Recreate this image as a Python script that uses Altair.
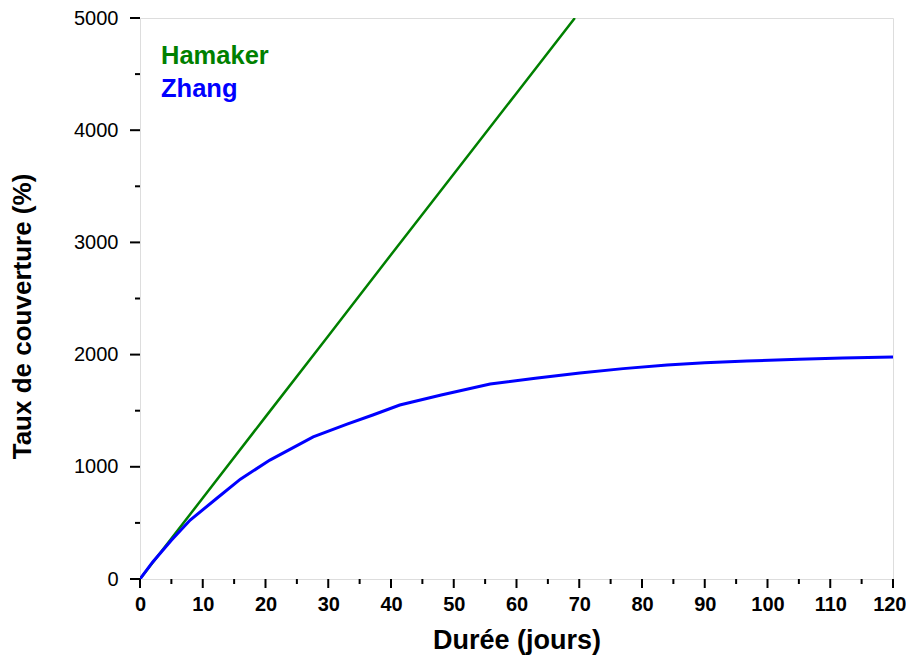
import altair as alt
import pandas as pd

# Hamaker series
ham_x = [0, 5, 10, 20, 30, 40, 50, 60, 69.3]
ham_y = [0, 360, 722, 1445, 2165, 2890, 3610, 4330, 5000]

# Zhang series
zh_x = [0, 2, 5, 8, 12.3, 16, 20.7, 27.6, 33, 37.1, 41.4, 48, 55.8, 63, 70.1, 77, 84, 90, 96.7, 105, 112, 120]
zh_y = [0, 150, 345, 525, 722, 890, 1060, 1266, 1380, 1462, 1551, 1640, 1738, 1790, 1836, 1875, 1907, 1928, 1943, 1958, 1970, 1979]

series_names = ["Hamaker", "Zhang"]
series_colors = ["#008000", "#0000FF"]
series_widths = [2.5, 3]

x_major = list(range(0, 121, 10))
x_minor = list(range(5, 120, 10))
y_major = list(range(0, 5001, 1000))
y_minor = list(range(500, 5000, 1000))

W, H = 753, 561

df = pd.concat([
    pd.DataFrame({"x": ham_x, "y": ham_y, "s": "Hamaker"}),
    pd.DataFrame({"x": zh_x, "y": zh_y, "s": "Zhang"}),
])

FONT = "Liberation Sans"
xscale = alt.Scale(domain=[0, 120], nice=False, zero=False)
yscale = alt.Scale(domain=[0, 5000], nice=False)

xax = alt.Axis(
    title="Durée (jours)", values=x_major, orient="bottom", format="d",
    ticks=False, domain=False,
    labelFont=FONT, labelFontSize=20, labelFontWeight="bold", labelColor="black",
    labelPadding=15, labelFlush=False,
    labelAlign={"condition": {"test": "datum.value === 120", "value": "right"}, "value": "center"},
    labelOffset={"condition": {"test": "datum.value === 120", "value": 13}, "value": 0},
    titleFont=FONT, titleFontSize=27, titleFontWeight="bold", titleColor="black",
    titlePadding=13, grid=False,
)
yax = alt.Axis(
    title="Taux de couverture (%)", values=y_major, orient="left", format="d",
    ticks=False, domain=False,
    labelFont=FONT, labelFontSize=20, labelColor="black",
    labelPadding=22, labelFlush=False,
    titleFont=FONT, titleFontSize=26, titleFontWeight="bold", titleColor="black",
    titlePadding=38, titleY=298, grid=False,
)

lines = alt.Chart(df).mark_line(clip=True).encode(
    x=alt.X("x:Q", scale=xscale, axis=xax),
    y=alt.Y("y:Q", scale=yscale, axis=yax),
    color=alt.Color("s:N", scale=alt.Scale(domain=series_names, range=series_colors), legend=None),
    strokeWidth=alt.StrokeWidth("s:N", scale=alt.Scale(domain=series_names, range=series_widths), legend=None),
)

def xticks(vals, size):
    return alt.Chart(pd.DataFrame({"v": vals})).mark_rule(color="black", strokeWidth=2).encode(
        x=alt.X("v:Q", scale=xscale),
        y=alt.value(H), y2=alt.value(H + size),
    )

def yticks(vals, size):
    return alt.Chart(pd.DataFrame({"v": vals})).mark_rule(color="black", strokeWidth=2).encode(
        y=alt.Y("v:Q", scale=yscale),
        x=alt.value(0), x2=alt.value(-size),
    )

ticks = [xticks(x_major, 9), xticks(x_minor, 5), yticks(y_major, 10), yticks(y_minor, 5)]

labels_df = pd.DataFrame({"s": series_names, "py": [38, 71]})
labels = alt.Chart(labels_df).mark_text(
    align="left", baseline="middle", font=FONT, fontSize=25.5, fontWeight="bold"
).encode(
    x=alt.value(21),
    y=alt.Y("py:Q", scale=None),
    text="s:N",
    color=alt.Color("s:N", scale=alt.Scale(domain=series_names, range=series_colors), legend=None),
)

chart = alt.layer(lines, *ticks, labels).properties(
    width=W, height=H,
    autosize=alt.AutoSizeParams(type="none"),
    padding={"left": 132, "top": 10, "right": 13, "bottom": 76},
).configure_view(stroke="black", strokeWidth=2).configure(background="white")

chart.save("out.html", embed_options={"renderer": "svg", "actions": False})
